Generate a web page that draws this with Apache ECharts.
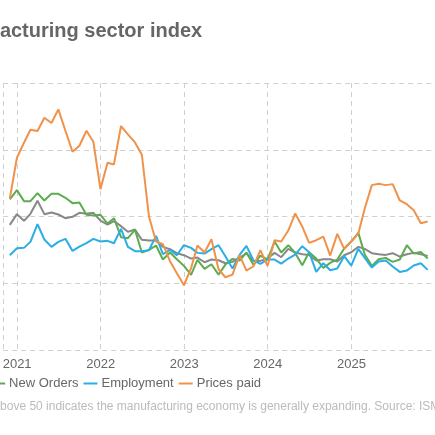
<!DOCTYPE html>
<html><head><meta charset="utf-8">
<script src="https://cdn.jsdelivr.net/npm/echarts@6/dist/echarts.min.js"></script>
<style>html,body{margin:0;padding:0;background:#fff}#c{width:435px;height:435px}</style>
</head><body><div id="c"></div>
<script>
const startYear = 2020, startMonth = 11; // first data month (Nov 2020)
const pmi = [57.5,60.7,
58.7,60.8,64.7,60.7,61.2,60.6,59.5,59.9,61.1,60.8,61.1,58.8,
57.6,58.6,57.1,55.4,56.1,53.0,52.8,52.8,50.9,50.2,49.0,48.4,
47.4,47.7,46.3,47.1,46.9,46.0,46.4,47.6,49.0,46.7,46.7,47.4,
49.1,47.8,50.3,49.2,48.7,48.5,46.8,47.2,47.2,46.5,48.4,49.3,
50.9,50.3,49.0,48.7,48.5,49.0,48.0,48.7,49.1,48.7,48.2];
const newOrders = [65.1,67.9,
64.6,64.6,67.0,64.8,66.8,66.8,65.6,64.0,64.2,60.5,60.3,60.5,
57.9,59.5,53.8,53.5,56.0,49.2,50.0,51.3,47.1,49.2,47.2,45.2,
42.5,47.0,44.3,45.7,42.6,45.6,47.3,46.8,49.2,45.5,48.3,47.1,
52.5,49.2,51.4,49.1,45.4,49.3,47.4,44.6,46.1,47.1,50.4,52.5,
55.1,48.6,45.2,47.2,47.6,46.4,47.1,51.4,48.9,49.4,47.4];
const employment = [48.4,50.5,
50.6,52.4,57.7,53.1,50.9,52.4,53.3,49.7,51.0,52.0,53.3,52.5,
52.7,52.0,56.3,50.9,49.6,49.6,49.9,54.2,48.7,50.0,48.4,51.4,
50.6,49.1,48.9,50.2,51.4,48.1,44.4,48.5,51.2,46.8,45.8,47.1,
47.1,45.9,47.4,48.6,51.1,49.3,43.4,46.0,43.9,44.4,48.1,45.3,
50.3,47.6,44.7,46.5,46.8,45.0,43.4,43.8,45.3,46.0,44.0];
const pricesPaid = [65.4,77.6,
82.1,86.0,85.6,89.6,88.0,92.1,85.7,79.4,81.2,85.7,82.4,68.2,
76.1,75.6,87.1,84.6,82.2,78.5,60.0,52.5,51.7,46.6,43.0,39.4,
44.5,51.3,49.2,53.2,44.2,41.8,42.6,48.4,43.8,45.1,49.9,45.2,
52.9,52.5,55.8,60.9,57.0,52.1,52.9,54.0,48.3,54.8,50.3,52.5,
54.9,62.4,69.4,69.8,69.4,69.7,64.8,63.7,61.9,58.0,58.5];
const yTicks = [20,40,60,80,100];

function monthEnd(i){ // last day of data month i
  const d = new Date(Date.UTC(startYear, startMonth - 1 + i + 1, 0));
  return d.getTime();
}
function toPairs(arr){ return arr.map((v,i)=>[monthEnd(i), v]); }

const chart = echarts.init(document.getElementById('c'));
const mk = (name, data, color) => ({name, type:'line', data: toPairs(data), showSymbol:false, symbol:'none',
  lineStyle:{width:2, color}, itemStyle:{color}, clip:true});
chart.setOption({
  animation:false,
  grid:{left:-10.7, right:-10, top:83, bottom:85, containLabel:false},
  xAxis:{type:'time', min:Date.UTC(2020,10,1), max:Date.UTC(2026,0,1),
    minInterval:365*24*3600*1000, maxInterval:366*24*3600*1000,
    axisLine:{show:false}, axisTick:{show:false},
    axisLabel:{color:'#666', fontSize:13, fontFamily:'Liberation Sans, Arial', margin:8, showMinLabel:false,
      formatter:(v)=>String(new Date(v).getUTCFullYear()), hideOverlap:false},
    splitLine:{show:true, lineStyle:{color:'#d0d0d0', type:[5,4], width:1}}},
  yAxis:{type:'value', min:yTicks[0], max:yTicks[yTicks.length-1], interval:20,
    axisLine:{show:false}, axisTick:{show:false}, axisLabel:{show:false},
    splitLine:{show:true, lineStyle:{color:'#d0d0d0', type:[5,4], width:1}}},
  legend:{left:-60, top:372, itemWidth:14, itemHeight:10, itemGap:5,
    textStyle:{color:'#666', fontSize:13, fontFamily:'Liberation Sans, Arial', padding:[0,0,0,-1]},
    icon:'path://M0,4 L14,4 L14,6 L0,6 Z'},
  graphic:[
    {type:'text', left:-59, top:21, style:{text:'Manufacturing sector index', fill:'#666', font:'bold 20px "Liberation Sans", Arial'}},
    {type:'text', left:-118, top:401, style:{text:'Note: A PMI reading above 50 indicates the manufacturing economy is generally expanding. Source: ISM', fill:'#bbb', font:'12px "Liberation Sans", Arial'}}
  ],
  series:[
    mk('PMI', pmi, '#888888'),
    mk('New Orders', newOrders, '#5cad4f'),
    mk('Employment', employment, '#29aee6'),
    mk('Prices paid', pricesPaid, '#f0924a')
  ]
});
</script></body></html>
